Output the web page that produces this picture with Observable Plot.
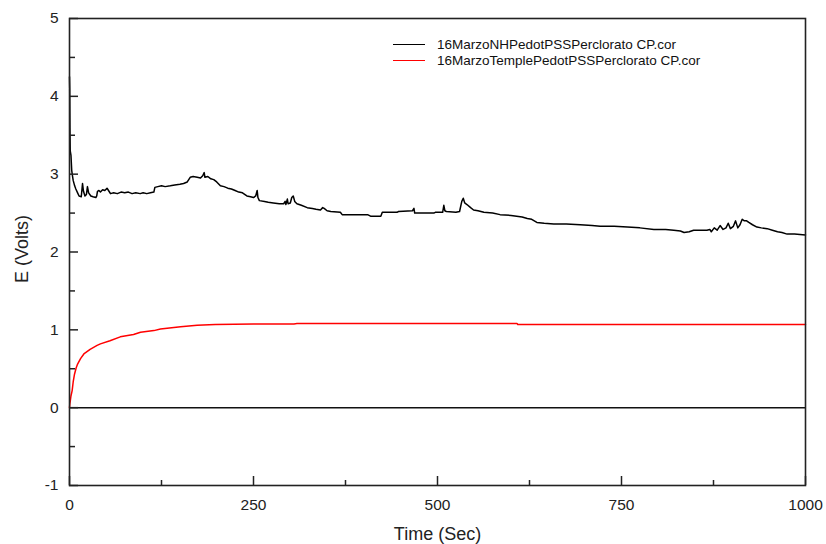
<!DOCTYPE html>
<html><head><meta charset="utf-8">
<script src="https://cdn.jsdelivr.net/npm/d3@7"></script>
<script src="https://cdn.jsdelivr.net/npm/@observablehq/plot@0.6"></script>
<style>
body{margin:0;background:#fff;font-family:"Liberation Sans",Arial,sans-serif;}
#wrap{position:relative;width:826px;height:544px;}
#legend{position:absolute;left:393px;top:37px;font-size:13.5px;color:#111;}
.row{display:flex;align-items:center;height:15.7px;white-space:nowrap;}
.sw{width:32px;height:0;border-top:1.5px solid;margin-right:12px;}
</style></head><body><div id="wrap"><div id="legend"></div></div>
<script>
// Series names and colours
const seriesNames = ["16MarzoNHPedotPSSPerclorato CP.cor", "16MarzoTemplePedotPSSPerclorato CP.cor"];
const seriesColors = ["#000000", "#ff0000"];

// Series 1 (black): time (s) and potential (V)
const blackT = [0,0.3,0.6,1,2,3,4,5,7,8.6,11,13,16,17.7,19,21,23,24.4,26,29,32,35.8,37,38,40,42,45,48,51,53,55.7,60,65,70,75,80,85,90,96,100,105,110,114.6,116,120,125,130,137,143,150,155,160,162,164,168,173.5,178,181,183,184,188,192,196,200,205,210,215,220,225,230,235,241,246,250,253,255,256,258,265,270,277,285,291,293,294,296,297,300,302,304,306,309,315,323,330,335,341,344,346,350,355,368,370.5,405,409,423,425,445,447,466,468,469,495,497,507,508.6,510,512,525,530,533,535,537,540,545,549,555,563,575,585,600,615,622,628,635,645,658,675,694,710,721,740,758,775,794,810,821,830,835,842,848,858,866,870,872,876,880,884,888,892,895,898,902,905,908,911,914,917,920,923,928,934,940,948,955,962,968,975,985,1000];
const blackE = [4.25,4.1,3.6,3.3,3.24,3.05,2.98,2.92,2.85,2.81,2.76,2.72,2.71,2.88,2.78,2.72,2.74,2.84,2.76,2.72,2.71,2.70,2.72,2.78,2.79,2.77,2.80,2.79,2.82,2.79,2.75,2.76,2.75,2.77,2.76,2.77,2.75,2.76,2.75,2.76,2.75,2.76,2.77,2.83,2.84,2.85,2.84,2.85,2.86,2.87,2.88,2.90,2.93,2.96,2.97,2.96,2.95,2.98,3.02,2.96,2.97,2.94,2.93,2.90,2.85,2.84,2.82,2.81,2.79,2.77,2.76,2.72,2.71,2.70,2.72,2.79,2.70,2.66,2.65,2.64,2.63,2.62,2.62,2.65,2.61,2.68,2.62,2.63,2.70,2.72,2.65,2.62,2.60,2.57,2.56,2.55,2.54,2.57,2.56,2.53,2.52,2.51,2.48,2.48,2.46,2.46,2.51,2.51,2.52,2.53,2.56,2.50,2.50,2.51,2.51,2.60,2.53,2.52,2.51,2.52,2.65,2.69,2.63,2.61,2.57,2.54,2.53,2.51,2.50,2.48,2.47,2.45,2.43,2.42,2.38,2.37,2.36,2.36,2.35,2.34,2.33,2.33,2.32,2.31,2.29,2.29,2.28,2.27,2.25,2.26,2.28,2.28,2.28,2.29,2.26,2.31,2.28,2.34,2.29,2.31,2.37,2.30,2.33,2.40,2.31,2.35,2.42,2.40,2.40,2.38,2.35,2.32,2.31,2.30,2.28,2.26,2.25,2.23,2.23,2.22];

// Series 2 (red)
const redT = [0,0.5,2,3.6,5,6.8,9,11,15,19.5,28,37.5,42,55,69,87,96.5,114.6,123.6,151,173.5,198,250,305,309,608,609,1000];
const redE = [0,0.05,0.15,0.22,0.33,0.43,0.51,0.56,0.63,0.69,0.75,0.80,0.82,0.86,0.91,0.94,0.97,0.99,1.01,1.04,1.06,1.07,1.075,1.076,1.08,1.08,1.07,1.07];

// Axis ticks
const xMajor = [0,250,500,750,1000];
const xMinor = [125,375,625,875];
const yMajor = [-1,0,1,2,3,4,5];
const yMinor = [-0.5,0.5,1.5,2.5,3.5,4.5];
const xLabel = "Time (Sec)";
const yLabel = "E (Volts)";

const black = blackT.map((t,i)=>({t, e: blackE[i]}));
const red = redT.map((t,i)=>({t, e: redE[i]}));

const W=826, H=544, mL=69, mR=21, mT=18, mB=59;
const plotW = W-mL-mR, plotH = H-mT-mB;
const axisCol = "#222";
const fmt = d => String(d);

const chart = Plot.plot({
  width: W, height: H,
  marginLeft: mL, marginRight: mR, marginTop: mT, marginBottom: mB,
  style: {fontFamily: "'Liberation Sans', Arial, sans-serif", fontSize: "15.5px", color: "#222", background: "#fff", overflow: "visible"},
  x: {domain: [0,1000]},
  y: {domain: [-1,5]},
  marks: [
    Plot.ruleY([0], {stroke: "#111", strokeWidth: 1.5}),
    Plot.line(red, {x: "t", y: "e", stroke: seriesColors[1], strokeWidth: 1.5}),
    Plot.line(black, {x: "t", y: "e", stroke: seriesColors[0], strokeWidth: 1.5}),
    Plot.tickX(xMajor, {x: d=>d, insetTop: plotH-9, stroke: axisCol, strokeWidth: 1.5}),
    Plot.tickX(xMinor, {x: d=>d, insetTop: plotH-5, stroke: axisCol, strokeWidth: 1.5}),
    Plot.tickY(yMajor, {y: d=>d, insetRight: plotW-9, stroke: axisCol, strokeWidth: 1.5}),
    Plot.tickY(yMinor, {y: d=>d, insetRight: plotW-6, stroke: axisCol, strokeWidth: 1.5}),
    Plot.frame({stroke: axisCol, strokeWidth: 1.6}),
    Plot.axisX(xMajor, {tickSize: 0, tickPadding: 13, label: null, tickFormat: fmt}),
    Plot.axisY(yMajor, {tickSize: 0, tickPadding: 11, label: null, tickFormat: fmt}),
    Plot.text([xLabel], {frameAnchor: "bottom", dy: 54, fontSize: 18, textAnchor: "middle", fill: "#222"}),
    Plot.text([yLabel], {frameAnchor: "left", dx: -47, dy: -3, rotate: -90, fontSize: 18, textAnchor: "middle", fill: "#222"})
  ]
});
document.getElementById("wrap").prepend(chart);

const leg = document.getElementById("legend");
seriesNames.forEach((n,i)=>{
  const r = document.createElement("div"); r.className = "row";
  const s = document.createElement("span"); s.className = "sw"; s.style.borderColor = seriesColors[i];
  const t = document.createElement("span"); t.textContent = n;
  r.appendChild(s); r.appendChild(t); leg.appendChild(r);
});
</script></body></html>
